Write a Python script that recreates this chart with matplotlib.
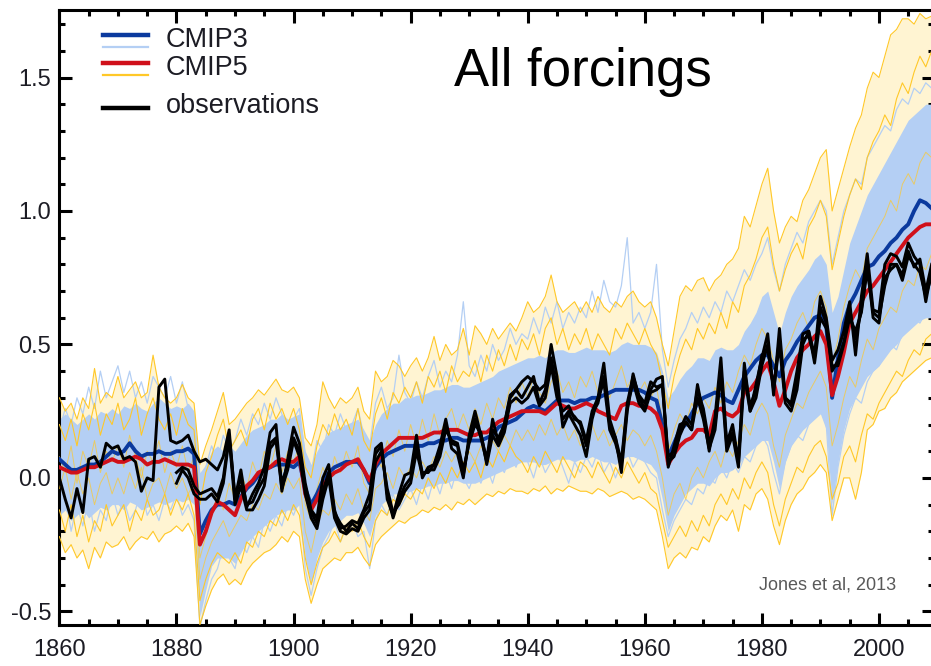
import numpy as np
import matplotlib.pyplot as plt
from matplotlib.ticker import MultipleLocator

plt.rcParams['font.family'] = ['Liberation Sans', 'DejaVu Sans']
plt.rcParams['axes.unicode_minus'] = False

years = np.arange(1860, 2010)
years_obs = np.arange(1880, 2010)

# multi-model means
cmip3_mean = [
    0.07, 0.05, 0.03, 0.03, 0.04, 0.05, 0.05, 0.06, 0.08, 0.10,
    0.09, 0.10, 0.13, 0.10, 0.08, 0.09, 0.09, 0.10, 0.09, 0.09,
    0.10, 0.10, 0.11, 0.09, -0.21, -0.16, -0.12, -0.10, -0.10, -0.09,
    -0.10, -0.07, -0.04, -0.02, 0.01, 0.03, 0.04, 0.05, 0.05, 0.05,
    0.04, 0.06, -0.04, -0.10, -0.06, -0.01, 0.02, 0.04, 0.05, 0.06,
    0.06, 0.06, 0.03, -0.02, 0.04, 0.07, 0.09, 0.10, 0.11, 0.12,
    0.12, 0.12, 0.12, 0.13, 0.13, 0.14, 0.14, 0.15, 0.15, 0.14,
    0.14, 0.14, 0.14, 0.15, 0.16, 0.19, 0.20, 0.21, 0.22, 0.24,
    0.26, 0.27, 0.26, 0.25, 0.27, 0.29, 0.29, 0.29, 0.28, 0.29,
    0.29, 0.30, 0.30, 0.31, 0.32, 0.33, 0.33, 0.33, 0.33, 0.33,
    0.32, 0.30, 0.29, 0.20, 0.08, 0.13, 0.18, 0.20, 0.24, 0.28,
    0.30, 0.31, 0.32, 0.31, 0.29, 0.28, 0.33, 0.38, 0.41, 0.44,
    0.46, 0.46, 0.42, 0.38, 0.44, 0.47, 0.51, 0.54, 0.57, 0.60,
    0.61, 0.57, 0.30, 0.45, 0.58, 0.65, 0.69, 0.74, 0.79, 0.80,
    0.83, 0.85, 0.88, 0.90, 0.93, 0.95, 1.00, 1.04, 1.03, 1.01]
cmip5_mean = [
    0.04, 0.03, 0.02, 0.02, 0.03, 0.04, 0.04, 0.05, 0.06, 0.07,
    0.06, 0.06, 0.07, 0.08, 0.07, 0.05, 0.06, 0.06, 0.07, 0.06,
    0.05, 0.05, 0.05, 0.04, -0.25, -0.20, -0.13, -0.09, -0.10, -0.12,
    -0.14, -0.08, -0.03, -0.01, 0.02, 0.03, 0.04, 0.06, 0.07, 0.06,
    0.06, 0.08, -0.06, -0.12, -0.08, -0.03, 0.00, 0.02, 0.03, 0.05,
    0.06, 0.07, 0.03, -0.01, 0.05, 0.09, 0.11, 0.13, 0.15, 0.15,
    0.15, 0.15, 0.15, 0.16, 0.17, 0.17, 0.18, 0.18, 0.18, 0.17,
    0.16, 0.16, 0.17, 0.17, 0.19, 0.21, 0.22, 0.23, 0.24, 0.25,
    0.25, 0.25, 0.25, 0.24, 0.26, 0.28, 0.27, 0.26, 0.26, 0.27,
    0.28, 0.27, 0.25, 0.24, 0.23, 0.22, 0.27, 0.28, 0.28, 0.27,
    0.27, 0.26, 0.24, 0.18, 0.05, 0.09, 0.12, 0.14, 0.15, 0.18,
    0.18, 0.16, 0.25, 0.26, 0.24, 0.23, 0.25, 0.32, 0.33, 0.36,
    0.40, 0.43, 0.36, 0.27, 0.33, 0.40, 0.45, 0.48, 0.50, 0.53,
    0.55, 0.50, 0.31, 0.38, 0.47, 0.58, 0.62, 0.66, 0.70, 0.72,
    0.75, 0.78, 0.81, 0.84, 0.87, 0.90, 0.92, 0.94, 0.95, 0.95]

# observations
obs_a = [
    0.00, -0.08, -0.15, -0.04, -0.13, 0.07, 0.08, 0.04, 0.13, 0.11,
    0.12, 0.07, 0.08, 0.06, -0.05, 0.00, -0.01, 0.34, 0.37, 0.14,
    0.13, 0.14, 0.16, 0.10, 0.06, 0.07, 0.05, 0.03, 0.08, 0.18,
    -0.08, 0.03, -0.11, -0.06, -0.02, 0.04, 0.17, 0.20, -0.05, 0.07,
    0.19, 0.13, -0.02, -0.12, -0.15, 0.00, 0.05, -0.12, -0.19, -0.18,
    -0.16, -0.17, -0.12, -0.06, 0.11, 0.13, -0.08, -0.14, -0.06, 0.01,
    0.02, 0.16, 0.00, 0.04, 0.05, 0.12, 0.22, 0.11, 0.09, 0.00,
    0.16, 0.25, 0.16, 0.07, 0.22, 0.13, 0.20, 0.31, 0.33, 0.36,
    0.38, 0.36, 0.33, 0.35, 0.50, 0.38, 0.19, 0.24, 0.20, 0.16,
    0.08, 0.22, 0.30, 0.43, 0.22, 0.15, 0.02, 0.25, 0.39, 0.30,
    0.26, 0.33, 0.37, 0.38, 0.04, 0.12, 0.20, 0.21, 0.18, 0.35,
    0.24, 0.10, 0.23, 0.45, 0.13, 0.20, 0.06, 0.43, 0.25, 0.35,
    0.45, 0.54, 0.31, 0.56, 0.30, 0.28, 0.40, 0.54, 0.55, 0.46,
    0.68, 0.60, 0.44, 0.48, 0.55, 0.66, 0.46, 0.68, 0.84, 0.63,
    0.62, 0.80, 0.84, 0.83, 0.79, 0.88, 0.83, 0.80, 0.66, 0.78]
obs_b = [
    0.02, 0.04, 0.03, -0.03, -0.06, -0.05, -0.04, -0.07, 0.00, 0.16,
    -0.07, 0.00, -0.10, -0.09, -0.04, 0.00, 0.13, 0.15, -0.02, 0.05,
    0.15, 0.10, -0.04, -0.13, -0.17, -0.05, 0.02, -0.13, -0.17, -0.20,
    -0.17, -0.19, -0.13, -0.10, 0.09, 0.12, -0.06, -0.15, -0.08, -0.03,
    0.00, 0.12, 0.02, 0.02, 0.05, 0.10, 0.20, 0.13, 0.12, 0.01,
    0.14, 0.22, 0.15, 0.06, 0.18, 0.15, 0.20, 0.30, 0.33, 0.30,
    0.34, 0.38, 0.28, 0.33, 0.45, 0.33, 0.22, 0.25, 0.23, 0.20,
    0.12, 0.24, 0.28, 0.38, 0.20, 0.15, 0.06, 0.28, 0.38, 0.31,
    0.28, 0.36, 0.34, 0.35, 0.08, 0.10, 0.18, 0.23, 0.20, 0.33,
    0.26, 0.13, 0.20, 0.41, 0.12, 0.17, 0.07, 0.40, 0.27, 0.33,
    0.46, 0.48, 0.34, 0.52, 0.30, 0.27, 0.36, 0.52, 0.53, 0.45,
    0.64, 0.58, 0.40, 0.44, 0.51, 0.62, 0.52, 0.63, 0.80, 0.60,
    0.58, 0.75, 0.78, 0.80, 0.74, 0.83, 0.80, 0.77, 0.68, 0.76]
obs_c = [
    -0.02, 0.03, 0.00, -0.06, -0.08, -0.08, -0.06, -0.09, -0.02, 0.15,
    -0.10, -0.03, -0.12, -0.12, -0.08, -0.03, 0.11, 0.14, -0.04, 0.03,
    0.14, 0.08, -0.06, -0.15, -0.19, -0.08, 0.00, -0.15, -0.20, -0.21,
    -0.19, -0.20, -0.15, -0.12, 0.06, 0.10, -0.04, -0.13, -0.10, -0.05,
    -0.02, 0.10, 0.01, 0.03, 0.03, 0.08, 0.18, 0.14, 0.13, 0.03,
    0.13, 0.20, 0.17, 0.05, 0.16, 0.12, 0.17, 0.28, 0.30, 0.28,
    0.30, 0.34, 0.27, 0.30, 0.42, 0.30, 0.25, 0.27, 0.22, 0.21,
    0.14, 0.25, 0.30, 0.36, 0.18, 0.13, 0.05, 0.26, 0.36, 0.28,
    0.25, 0.32, 0.33, 0.35, 0.06, 0.08, 0.16, 0.21, 0.18, 0.30,
    0.22, 0.11, 0.18, 0.39, 0.10, 0.16, 0.04, 0.38, 0.25, 0.30,
    0.42, 0.50, 0.33, 0.50, 0.28, 0.25, 0.33, 0.50, 0.55, 0.43,
    0.60, 0.56, 0.42, 0.42, 0.50, 0.60, 0.55, 0.62, 0.78, 0.62,
    0.60, 0.72, 0.80, 0.80, 0.76, 0.85, 0.79, 0.82, 0.70, 0.80]

# CMIP3 ensemble, dense range
cmip3_lo = [
    -0.14, -0.12, -0.16, -0.14, -0.12, -0.15, -0.13, -0.11, -0.12, -0.10,
    -0.10, -0.12, -0.09, -0.10, -0.12, -0.11, -0.10, -0.09, -0.10, -0.09,
    -0.08, -0.09, -0.08, -0.10, -0.52, -0.42, -0.33, -0.30, -0.30, -0.30,
    -0.32, -0.28, -0.24, -0.22, -0.20, -0.18, -0.16, -0.14, -0.13, -0.12,
    -0.12, -0.10, -0.30, -0.40, -0.30, -0.24, -0.20, -0.18, -0.16, -0.14,
    -0.14, -0.13, -0.17, -0.22, -0.14, -0.10, -0.08, -0.06, -0.06, -0.05,
    -0.05, -0.04, -0.04, -0.03, -0.03, -0.02, -0.02, -0.01, -0.01, -0.02,
    -0.02, -0.02, -0.01, 0.00, 0.01, 0.02, 0.03, 0.04, 0.05, 0.06,
    0.06, 0.06, 0.05, 0.05, 0.06, 0.07, 0.07, 0.07, 0.06, 0.07,
    0.07, 0.08, 0.07, 0.06, 0.06, 0.05, 0.07, 0.08, 0.08, 0.07,
    0.06, 0.05, 0.02, -0.08, -0.20, -0.14, -0.10, -0.06, -0.04, -0.02,
    -0.02, -0.03, 0.00, 0.02, 0.02, 0.03, 0.05, 0.08, 0.10, 0.12,
    0.14, 0.14, 0.06, -0.04, 0.06, 0.12, 0.15, 0.18, 0.20, 0.22,
    0.24, 0.18, -0.10, 0.06, 0.18, 0.26, 0.30, 0.34, 0.38, 0.40,
    0.42, 0.45, 0.48, 0.50, 0.53, 0.55, 0.57, 0.59, 0.60, 0.60]
cmip3_hi = [
    0.22, 0.24, 0.22, 0.20, 0.22, 0.24, 0.22, 0.25, 0.24, 0.26,
    0.24, 0.27, 0.26, 0.28, 0.26, 0.25, 0.28, 0.30, 0.28, 0.26,
    0.27, 0.26, 0.28, 0.25, 0.02, 0.05, 0.10, 0.12, 0.10, 0.12,
    0.10, 0.13, 0.16, 0.18, 0.19, 0.20, 0.22, 0.22, 0.24, 0.22,
    0.23, 0.24, 0.10, 0.05, 0.10, 0.14, 0.17, 0.18, 0.19, 0.20,
    0.21, 0.22, 0.18, 0.14, 0.20, 0.24, 0.26, 0.28, 0.28, 0.30,
    0.30, 0.31, 0.31, 0.32, 0.33, 0.33, 0.34, 0.35, 0.35, 0.34,
    0.34, 0.35, 0.36, 0.37, 0.38, 0.40, 0.41, 0.42, 0.43, 0.44,
    0.45, 0.45, 0.46, 0.45, 0.47, 0.48, 0.48, 0.47, 0.47, 0.48,
    0.49, 0.48, 0.48, 0.48, 0.47, 0.48, 0.50, 0.51, 0.50, 0.50,
    0.50, 0.49, 0.47, 0.40, 0.30, 0.33, 0.37, 0.40, 0.42, 0.45,
    0.45, 0.44, 0.48, 0.49, 0.48, 0.48, 0.50, 0.55, 0.58, 0.62,
    0.68, 0.70, 0.62, 0.54, 0.62, 0.68, 0.72, 0.75, 0.78, 0.82,
    0.84, 0.80, 0.62, 0.68, 0.78, 0.88, 0.94, 1.00, 1.06, 1.10,
    1.14, 1.18, 1.22, 1.26, 1.30, 1.34, 1.36, 1.38, 1.40, 1.40]

# CMIP3 single runs outside the dense range
cmip3_run1 = [
    0.18, 0.26, 0.20, 0.30, 0.24, 0.34, 0.26, 0.40, 0.30, 0.36,
    0.42, 0.32, 0.40, 0.30, 0.36, 0.28, 0.38, 0.34, 0.30, 0.38,
    0.28, 0.36, 0.26, 0.22, -0.06, 0.04, 0.12, 0.06, 0.16, 0.10,
    0.14, 0.22, 0.16, 0.24, 0.20, 0.28, 0.22, 0.30, 0.24, 0.18,
    0.22, 0.26, 0.08, 0.02, 0.14, 0.10, 0.20, 0.16, 0.24, 0.18,
    0.20, 0.26, 0.16, 0.12, 0.28, 0.34, 0.26, 0.30, 0.46, 0.32,
    0.28, 0.36, 0.30, 0.38, 0.44, 0.34, 0.40, 0.36, 0.46, 0.66,
    0.42, 0.38, 0.46, 0.40, 0.50, 0.44, 0.48, 0.56, 0.50, 0.54,
    0.52, 0.60, 0.54, 0.64, 0.58, 0.66, 0.56, 0.62, 0.58, 0.64,
    0.60, 0.70, 0.62, 0.74, 0.66, 0.64, 0.72, 0.90, 0.58, 0.62,
    0.56, 0.62, 0.80, 0.48, 0.34, 0.44, 0.52, 0.56, 0.62, 0.58,
    0.64, 0.60, 0.66, 0.62, 0.70, 0.66, 0.72, 0.78, 0.74, 0.80,
    0.84, 0.90, 0.78, 0.70, 0.80, 0.86, 0.92, 0.88, 0.96, 1.00,
    1.04, 1.00, 0.80, 0.90, 1.00, 1.06, 1.12, 1.10, 1.20, 1.24,
    1.28, 1.32, 1.30, 1.38, 1.42, 1.40, 1.46, 1.44, 1.48, 1.46]
cmip3_run2 = [
    -0.16, -0.06, -0.20, -0.10, -0.18, -0.08, -0.20, -0.12, -0.16, -0.06,
    -0.14, -0.08, -0.16, -0.12, -0.04, -0.14, -0.10, -0.16, -0.08, -0.12,
    -0.06, -0.14, -0.10, -0.16, -0.56, -0.46, -0.38, -0.34, -0.26, -0.30,
    -0.34, -0.24, -0.28, -0.22, -0.26, -0.16, -0.20, -0.14, -0.18, -0.10,
    -0.14, -0.08, -0.34, -0.44, -0.34, -0.26, -0.22, -0.16, -0.24, -0.18,
    -0.16, -0.22, -0.20, -0.34, -0.16, -0.10, -0.14, -0.06, -0.12, -0.08,
    -0.04, -0.10, -0.02, -0.08, 0.00, -0.06, 0.02, -0.04, 0.04, 0.00,
    -0.04, 0.02, -0.02, 0.04, -0.02, 0.06, 0.02, 0.08, 0.04, 0.10,
    0.06, 0.00, 0.08, 0.02, 0.06, 0.10, 0.04, -0.02, 0.06, 0.02,
    0.08, 0.04, 0.10, 0.02, 0.06, 0.00, 0.06, 0.10, 0.04, 0.08,
    0.06, 0.02, 0.00, -0.12, -0.22, -0.16, -0.12, -0.08, -0.10, -0.04,
    -0.06, 0.00, -0.02, 0.04, 0.00, 0.06, 0.02, 0.08, 0.06, 0.12,
    0.16, 0.12, 0.02, -0.06, 0.06, 0.12, 0.16, 0.14, 0.20, 0.24,
    0.26, 0.20, -0.14, 0.04, 0.16, 0.24, 0.30, 0.28, 0.36, 0.40,
    0.42, 0.46, 0.50, 0.48, 0.54, 0.56, 0.60, 0.58, 0.62, 0.64]

# CMIP5 ensemble, outer range
cmip5_lo = [
    -0.22, -0.28, -0.25, -0.30, -0.27, -0.34, -0.26, -0.30, -0.24, -0.26,
    -0.25, -0.22, -0.27, -0.24, -0.22, -0.23, -0.20, -0.24, -0.21, -0.20,
    -0.18, -0.20, -0.17, -0.22, -0.55, -0.48, -0.42, -0.38, -0.36, -0.40,
    -0.38, -0.40, -0.35, -0.32, -0.30, -0.28, -0.27, -0.25, -0.22, -0.24,
    -0.20, -0.22, -0.38, -0.47, -0.40, -0.34, -0.32, -0.30, -0.31, -0.28,
    -0.28, -0.26, -0.30, -0.33, -0.25, -0.22, -0.20, -0.18, -0.16, -0.17,
    -0.15, -0.14, -0.12, -0.13, -0.11, -0.12, -0.10, -0.12, -0.09, -0.10,
    -0.08, -0.10, -0.08, -0.06, -0.07, -0.05, -0.06, -0.04, -0.05, -0.05,
    -0.06, -0.04, -0.05, -0.03, -0.06, -0.04, -0.05, -0.03, -0.04, -0.05,
    -0.05, -0.06, -0.04, -0.05, -0.07, -0.06, -0.05, -0.06, -0.08, -0.07,
    -0.08, -0.10, -0.12, -0.22, -0.34, -0.30, -0.28, -0.30, -0.26, -0.27,
    -0.22, -0.24, -0.18, -0.14, -0.16, -0.12, -0.20, -0.10, -0.12, -0.06,
    -0.04, -0.08, -0.18, -0.25, -0.16, -0.10, -0.06, -0.04, 0.00, 0.02,
    0.05, 0.02, -0.16, -0.08, 0.00, 0.00, -0.08, 0.02, 0.18, 0.20,
    0.25, 0.26, 0.30, 0.32, 0.36, 0.38, 0.40, 0.42, 0.44, 0.45]
cmip5_hi = [
    0.30, 0.25, 0.28, 0.22, 0.30, 0.26, 0.41, 0.28, 0.32, 0.30,
    0.38, 0.30, 0.33, 0.36, 0.30, 0.32, 0.46, 0.34, 0.30, 0.28,
    0.30, 0.35, 0.30, 0.28, 0.05, 0.12, 0.18, 0.25, 0.32, 0.20,
    0.22, 0.25, 0.28, 0.30, 0.33, 0.31, 0.34, 0.37, 0.33, 0.32,
    0.34, 0.30, 0.15, 0.12, 0.20, 0.36, 0.30, 0.26, 0.30, 0.28,
    0.30, 0.34, 0.25, 0.22, 0.40, 0.36, 0.38, 0.44, 0.42, 0.38,
    0.42, 0.45, 0.40, 0.45, 0.53, 0.44, 0.50, 0.46, 0.48, 0.56,
    0.46, 0.57, 0.54, 0.50, 0.56, 0.52, 0.55, 0.58, 0.55, 0.60,
    0.66, 0.62, 0.64, 0.68, 0.76, 0.66, 0.62, 0.64, 0.66, 0.62,
    0.66, 0.62, 0.68, 0.64, 0.62, 0.66, 0.64, 0.68, 0.70, 0.66,
    0.64, 0.66, 0.60, 0.50, 0.42, 0.55, 0.68, 0.72, 0.70, 0.74,
    0.75, 0.70, 0.74, 0.76, 0.80, 0.82, 0.86, 0.98, 0.94, 1.02,
    1.10, 1.16, 1.00, 0.88, 0.94, 0.98, 0.96, 1.04, 1.08, 1.14,
    1.20, 1.23, 1.00, 1.08, 1.16, 1.24, 1.31, 1.36, 1.46, 1.52,
    1.50, 1.58, 1.66, 1.68, 1.72, 1.72, 1.70, 1.74, 1.72, 1.73]

# CMIP5 single runs
cmip5_run1 = [
    0.20, 0.14, 0.22, 0.12, 0.24, 0.18, 0.28, 0.16, 0.24, 0.20,
    0.28, 0.18, 0.22, 0.30, 0.16, 0.24, 0.30, 0.22, 0.18, 0.24,
    0.16, 0.26, 0.20, 0.18, -0.10, 0.02, 0.08, 0.16, 0.22, 0.10,
    0.14, 0.18, 0.12, 0.22, 0.26, 0.18, 0.28, 0.22, 0.26, 0.20,
    0.26, 0.18, 0.04, 0.00, 0.12, 0.20, 0.16, 0.24, 0.18, 0.22,
    0.16, 0.26, 0.14, 0.10, 0.24, 0.30, 0.22, 0.32, 0.28, 0.34,
    0.30, 0.36, 0.28, 0.38, 0.34, 0.40, 0.32, 0.42, 0.36, 0.40,
    0.38, 0.44, 0.36, 0.46, 0.40, 0.48, 0.42, 0.50, 0.44, 0.52,
    0.48, 0.54, 0.46, 0.56, 0.60, 0.50, 0.56, 0.48, 0.54, 0.50,
    0.56, 0.48, 0.54, 0.50, 0.46, 0.56, 0.52, 0.58, 0.54, 0.50,
    0.56, 0.50, 0.46, 0.36, 0.26, 0.38, 0.46, 0.52, 0.48, 0.56,
    0.52, 0.58, 0.54, 0.62, 0.56, 0.66, 0.62, 0.72, 0.76, 0.82,
    0.90, 0.94, 0.80, 0.70, 0.78, 0.84, 0.88, 0.82, 0.94, 0.98,
    1.04, 0.98, 0.78, 0.88, 0.98, 1.06, 1.12, 1.08, 1.20, 1.26,
    1.30, 1.36, 1.32, 1.42, 1.48, 1.44, 1.52, 1.58, 1.54, 1.60]
cmip5_run2 = [
    -0.12, -0.20, -0.10, -0.22, -0.14, -0.24, -0.16, -0.20, -0.10, -0.18,
    -0.14, -0.10, -0.20, -0.12, -0.16, -0.08, -0.14, -0.12, -0.06, -0.14,
    -0.08, -0.12, -0.06, -0.14, -0.46, -0.38, -0.32, -0.28, -0.30, -0.32,
    -0.28, -0.32, -0.24, -0.26, -0.20, -0.22, -0.16, -0.18, -0.12, -0.16,
    -0.10, -0.14, -0.30, -0.40, -0.32, -0.26, -0.24, -0.20, -0.24, -0.18,
    -0.20, -0.16, -0.22, -0.26, -0.16, -0.12, -0.14, -0.08, -0.10, -0.06,
    -0.08, -0.04, -0.06, 0.00, -0.04, 0.02, -0.02, 0.04, 0.00, 0.06,
    0.02, 0.06, 0.00, 0.08, 0.04, 0.10, 0.06, 0.12, 0.08, 0.06,
    0.02, 0.08, 0.04, 0.10, 0.06, 0.02, 0.08, 0.04, 0.00, 0.06,
    0.04, 0.00, 0.06, 0.02, -0.02, 0.04, 0.00, 0.06, 0.02, -0.02,
    0.02, -0.04, -0.06, -0.16, -0.26, -0.22, -0.18, -0.22, -0.16, -0.20,
    -0.14, -0.18, -0.10, -0.06, -0.10, -0.04, -0.08, 0.00, -0.04, 0.02,
    0.06, 0.02, -0.10, -0.18, -0.08, -0.02, 0.04, 0.02, 0.08, 0.12,
    0.14, 0.08, -0.08, -0.02, 0.08, 0.12, 0.06, 0.16, 0.24, 0.22,
    0.28, 0.32, 0.36, 0.40, 0.38, 0.44, 0.48, 0.46, 0.52, 0.54]
cmip5_run3 = [
    0.08, 0.02, 0.12, -0.02, 0.10, 0.04, 0.14, 0.02, 0.10, 0.06,
    0.12, 0.04, 0.16, 0.08, 0.00, 0.10, 0.06, 0.14, 0.02, 0.10,
    0.04, 0.12, 0.02, 0.08, -0.30, -0.22, -0.14, -0.06, -0.12, -0.02,
    -0.08, 0.02, -0.04, 0.06, 0.00, 0.10, 0.04, 0.12, 0.02, 0.10,
    0.06, 0.12, -0.10, -0.16, -0.04, 0.04, -0.02, 0.08, 0.02, 0.10,
    0.04, 0.12, -0.02, -0.06, 0.10, 0.04, 0.14, 0.08, 0.18, 0.10,
    0.20, 0.12, 0.22, 0.14, 0.24, 0.16, 0.22, 0.26, 0.18, 0.24,
    0.18, 0.26, 0.20, 0.28, 0.22, 0.30, 0.26, 0.34, 0.28, 0.36,
    0.30, 0.38, 0.32, 0.28, 0.36, 0.40, 0.32, 0.36, 0.30, 0.38,
    0.34, 0.40, 0.32, 0.38, 0.30, 0.36, 0.42, 0.34, 0.38, 0.32,
    0.36, 0.30, 0.34, 0.22, 0.10, 0.18, 0.24, 0.20, 0.28, 0.24,
    0.30, 0.26, 0.34, 0.28, 0.36, 0.32, 0.40, 0.46, 0.42, 0.50,
    0.56, 0.52, 0.44, 0.36, 0.48, 0.52, 0.58, 0.62, 0.56, 0.66,
    0.70, 0.64, 0.42, 0.52, 0.64, 0.72, 0.78, 0.74, 0.86, 0.90,
    0.94, 0.98, 1.04, 1.00, 1.10, 1.14, 1.10, 1.18, 1.22, 1.20]
cmip5_run4 = [
    -0.04, 0.04, -0.08, 0.02, -0.06, 0.00, -0.10, -0.02, 0.02, -0.06,
    0.00, -0.06, 0.02, -0.04, 0.04, -0.08, -0.02, 0.00, -0.06, 0.02,
    -0.04, 0.00, -0.06, -0.02, -0.38, -0.30, -0.24, -0.20, -0.16, -0.22,
    -0.18, -0.14, -0.16, -0.10, -0.12, -0.06, -0.08, -0.02, -0.06, 0.00,
    -0.04, 0.00, -0.20, -0.28, -0.18, -0.12, -0.14, -0.08, -0.12, -0.06,
    -0.10, -0.04, -0.12, -0.16, -0.04, -0.02, 0.02, -0.04, 0.04, 0.00,
    0.04, 0.00, 0.06, 0.02, 0.08, 0.04, 0.10, 0.06, 0.10, 0.04,
    0.10, 0.06, 0.12, 0.08, 0.14, 0.10, 0.16, 0.12, 0.18, 0.14,
    0.18, 0.14, 0.20, 0.16, 0.22, 0.16, 0.20, 0.14, 0.18, 0.12,
    0.16, 0.20, 0.14, 0.18, 0.12, 0.16, 0.20, 0.14, 0.18, 0.16,
    0.12, 0.16, 0.10, 0.00, -0.14, -0.06, -0.02, -0.08, 0.00, 0.04,
    0.00, 0.06, 0.10, 0.04, 0.12, 0.08, 0.14, 0.20, 0.16, 0.24,
    0.28, 0.24, 0.12, 0.04, 0.16, 0.22, 0.28, 0.26, 0.32, 0.36,
    0.40, 0.34, 0.12, 0.20, 0.30, 0.38, 0.34, 0.44, 0.52, 0.48,
    0.56, 0.60, 0.64, 0.62, 0.70, 0.74, 0.72, 0.80, 0.78, 0.84]

dark_blue = '#0b3a9e'
light_blue = '#b4cff4'
red = '#d0101a'
yellow = '#ffc828'

fig = plt.figure(figsize=(9.31, 6.66), dpi=100)
ax = fig.add_axes([0.0638, 0.0616, 0.9394, 0.9234])

ax.fill_between(years, cmip5_lo, cmip5_hi, color='#fff4d2', lw=0, zorder=1)
ax.fill_between(years, cmip3_lo, cmip3_hi, color=light_blue, lw=0, zorder=2)
for run in [cmip3_run1, cmip3_run2]:
    ax.plot(years, run, color=light_blue, lw=0.9, zorder=2)
for run in [cmip5_lo, cmip5_hi, cmip5_run1, cmip5_run2]:
    ax.plot(years, run, color=yellow, lw=0.8, zorder=3)
for run in [cmip5_run3, cmip5_run4]:
    ax.plot(years, run, color=yellow, lw=0.7, alpha=0.7, zorder=3)

ax.plot(years, cmip3_mean, color=dark_blue, lw=2.8, zorder=4)
ax.plot(years, cmip5_mean, color=red, lw=2.8, zorder=5)

ax.plot(years, obs_a, color='black', lw=2.1, zorder=6)
ax.plot(years_obs, obs_b, color='black', lw=2.1, zorder=6)
ax.plot(years_obs, obs_c, color='black', lw=2.1, zorder=6)

ax.set_xlim(1860, 2009.4)
ax.set_ylim(-0.551, 1.753)
ax.xaxis.set_major_locator(MultipleLocator(20))
ax.xaxis.set_minor_locator(MultipleLocator(5))
ax.yaxis.set_major_locator(MultipleLocator(0.5))
ax.yaxis.set_minor_locator(MultipleLocator(0.1))
ax.tick_params(which='both', direction='in', top=True, right=True,
               width=2.2, colors='black', labelcolor='#1c1c24', labelsize=17)
ax.tick_params(which='major', length=9)
ax.tick_params(which='minor', length=4.5)
ax.tick_params(axis='x', pad=10)
ax.tick_params(axis='y', pad=6)
for s in ax.spines.values():
    s.set_linewidth(2.2)

# legend drawn by hand
tr = ax.transAxes
ax.plot([0.050, 0.101], [0.959, 0.959], color=dark_blue, lw=3.2, transform=tr, zorder=7)
ax.plot([0.050, 0.101], [0.940, 0.940], color=light_blue, lw=1.6, transform=tr, zorder=7)
ax.plot([0.050, 0.101], [0.914, 0.914], color=red, lw=3.2, transform=tr, zorder=7)
ax.plot([0.050, 0.101], [0.894, 0.894], color=yellow, lw=1.6, transform=tr, zorder=7)
ax.plot([0.050, 0.101], [0.841, 0.841], color='black', lw=3.2, transform=tr, zorder=7)
ax.text(0.122, 0.951, 'CMIP3', transform=tr, fontsize=19.5, color='#1c1c24', va='center')
ax.text(0.122, 0.906, 'CMIP5', transform=tr, fontsize=19.5, color='#1c1c24', va='center')
ax.text(0.122, 0.844, 'observations', transform=tr, fontsize=19.5, color='#1c1c24', va='center')

ax.text(0.599, 0.899, 'All forcings', transform=tr, fontsize=38, color='black',
        ha='center', va='center')
ax.text(0.957, 0.065, 'Jones et al, 2013', transform=tr, fontsize=13, color='#595959',
        ha='right', va='center')

fig.savefig('out.png', dpi=100)
